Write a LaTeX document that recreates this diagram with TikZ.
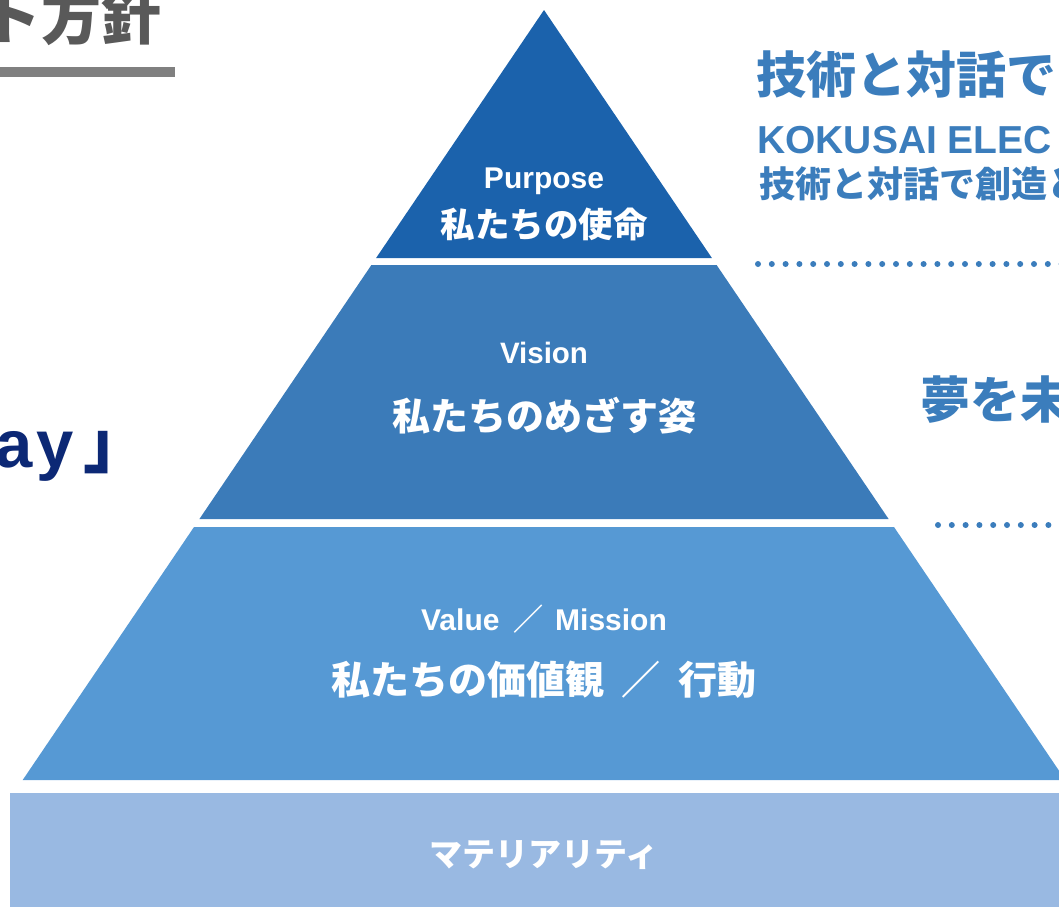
\documentclass[tikz,border=0pt]{standalone}
\usepackage{fontspec}
\setmainfont{Liberation Sans}
\newfontfamily\jp{Noto Sans CJK JP}
\definecolor{purposeblue}{HTML}{1B62AC}
\definecolor{visionblue}{HTML}{3B7BB9}
\definecolor{valueblue}{HTML}{5699D4}
\definecolor{matblue}{HTML}{99B9E2}
\definecolor{headblue}{HTML}{3B7DBC}
\definecolor{navy}{HTML}{0C2875}
\definecolor{titlegray}{HTML}{595959}
\newcommand{\fs}[1]{\fontsize{#1}{#1}\selectfont}
\tikzset{
  entext/.style={text=white, inner sep=0pt, anchor=base, font=\bfseries\fs{#1}},
  jptext/.style={text=white, inner sep=0pt, anchor=base, font=\jp\bfseries\fs{#1}},
  headtext/.style={text=headblue, inner sep=0pt, anchor=base west},
  dotline/.style={draw=headblue, line width=6pt, line cap=round, dash pattern=on 0pt off 13.8pt}
}
\begin{document}
\begin{tikzpicture}[x=1pt,y=-1pt]
 \useasboundingbox (0,0) rectangle (1059,906);
 % 左上の見出し
 \node[text=titlegray, inner sep=0pt, anchor=base east, font=\jp\bfseries\fs{60}] (title) at (162,39) {ト方針};
 \fill[black!50](0,67) rectangle (175,77);
 \node[text=navy, inner sep=0pt, anchor=base west, font=\bfseries\fs{67}] (way) at (-5,467) {a\kern4pt y\kern10pt{\jp 」}};
 % ピラミッド三段
 \fill[purposeblue](544,10)--(711.9,258)--(376.1,258)--cycle;
 \fill[visionblue](371.4,265)--(716.6,265)--(888.6,519)--(199.4,519)--cycle;
 \fill[valueblue](194,527)--(894,527)--(1065.3,780)--(22.7,780)--cycle;
 \fill[matblue](10,793) rectangle (1070,910);
 \node[entext=30] (purpose) at (544,188) {Purpose};
 \node[jptext=34.5] (purposejp) at (544,237) {私たちの使命};
 \node[entext=29.5] (vision) at (544,363) {Vision};
 \node[jptext=38] (visionjp) at (544,430) {私たちのめざす姿};
 \node[entext=30] (value) at (544,630) {Value\hspace{0.2em} {\jp ／}\hspace{0.1em} Mission};
 \node[jptext=39] (valuejp) at (544,694) {私たちの価値観\hspace{0.45em}／\hspace{0.45em}行動};
 \node[jptext=33] (materiality) at (544,866) {マテリアリティ};
 % 右側の説明
 \node[headtext, font=\jp\bfseries\fs{50}] (mission) at (756,93.5) {技術と対話で};
 \node[headtext, font=\bfseries\fs{39}] (company) at (757,153) {KOKUSAI ELEC};
 \node[headtext, font=\jp\bfseries\fs{36}] (missionsub) at (759,197.5) {技術と対話で創造と};
 \node[headtext, font=\jp\bfseries\fs{50}] (dream) at (920,418.5) {夢を未};
 \draw[dotline](758,264)--(1075,264);
 \draw[dotline](938,525)--(1075,525);
\end{tikzpicture}
\end{document}
